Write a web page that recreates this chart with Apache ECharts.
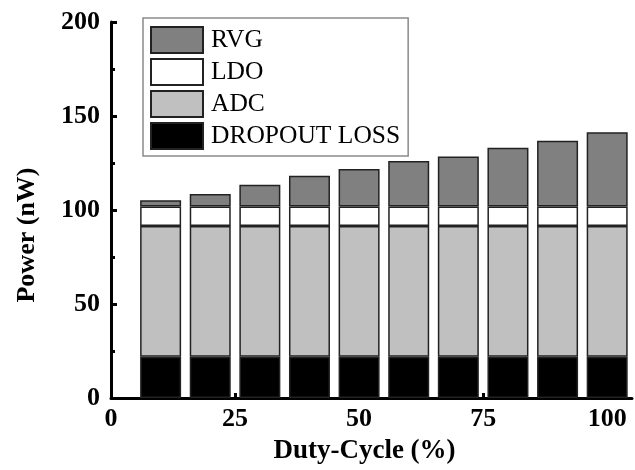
<!DOCTYPE html>
<html>
<head>
<meta charset="utf-8">
<script src="https://cdn.jsdelivr.net/npm/echarts@6/dist/echarts.min.js"></script>
<style>html,body{margin:0;padding:0;background:#fff}#c{width:635px;height:470px}</style>
</head>
<body>
<div id="c"></div>
<script>
const dutyCycle = [10, 20, 30, 40, 50, 60, 70, 80, 90, 100];
const dropoutLoss = [22, 22, 22, 22, 22, 22, 22, 22, 22, 22];
const adc = [69.5, 69.5, 69.5, 69.5, 69.5, 69.5, 69.5, 69.5, 69.5, 69.5];
const ldo = [10.4, 10.4, 10.4, 10.4, 10.4, 10.4, 10.4, 10.4, 10.4, 10.4];
const rvg = [3.3, 6.6, 11.5, 16.3, 19.9, 24.1, 26.5, 31.2, 34.9, 39.4];
const xTicks = [0, 25, 50, 75, 100];
const yTicks = [0, 50, 100, 150, 200];

const font = '"Liberation Serif", "Times New Roman", serif';
// data rows as [power, duty-cycle] so the stack runs along the power (y) dimension
const pair = arr => arr.map((v, i) => [v, dutyCycle[i]]);
const mk = (name, data, color) => ({
  name, type: 'bar', stack: 'p', data: pair(data), barWidth: 41,
  encode: { x: 1, y: 0 },
  itemStyle: { color, borderColor: '#222', borderWidth: 1.5 }
});

const chart = echarts.init(document.getElementById('c'));
chart.setOption({
  animation: false,
  backgroundColor: '#fff',
  grid: { left: 111, right: 3, top: 22, bottom: 68 },
  legend: {
    orient: 'vertical', left: 143, top: 18,
    data: ['RVG', 'LDO', 'ADC', 'DROPOUT LOSS'],
    icon: 'rect',
    itemWidth: 52, itemHeight: 26, itemGap: 4,
    padding: [8, 8, 6, 7],
    borderColor: '#8a8a8a', borderWidth: 1.5,
    textStyle: { fontFamily: font, fontSize: 25.5, lineHeight: 26, color: '#000', padding: [0, 0, 0, 3] }
  },
  xAxis: {
    type: 'value', min: 0, max: 105, interval: 25,
    name: 'Duty-Cycle (%)', nameLocation: 'middle', nameGap: 40,
    nameTextStyle: { fontFamily: font, fontSize: 27, fontWeight: 'bold', color: '#000', padding: [0, 14, 0, 0] },
    axisLine: { lineStyle: { color: '#000', width: 3 } },
    axisTick: { inside: true, length: 5, lineStyle: { color: '#000', width: 3 }, customValues: xTicks },
    axisLabel: { fontFamily: font, fontSize: 26, fontWeight: 'bold', color: '#000', margin: 8, customValues: xTicks },
    splitLine: { show: false }
  },
  yAxis: {
    type: 'value', min: 0, max: 200, interval: 50,
    name: 'Power (nW)', nameLocation: 'middle', nameGap: 71,
    nameTextStyle: { fontFamily: font, fontSize: 26, fontWeight: 'bold', color: '#000', padding: [0, 50, 0, 0] },
    axisLine: { show: true, lineStyle: { color: '#000', width: 3 } },
    axisTick: { show: true, inside: true, length: 6, lineStyle: { color: '#000', width: 3 }, customValues: yTicks },
    minorTick: { show: true, splitNumber: 2, length: 4, lineStyle: { color: '#000', width: 3 } },
    axisLabel: { fontFamily: font, fontSize: 26, fontWeight: 'bold', color: '#000', margin: 11, customValues: yTicks },
    splitLine: { show: false }
  },
  series: [
    mk('DROPOUT LOSS', dropoutLoss, '#000000'),
    mk('ADC', adc, '#c0c0c0'),
    mk('LDO', ldo, '#ffffff'),
    mk('RVG', rvg, '#808080')
  ]
});
</script>
</body>
</html>
